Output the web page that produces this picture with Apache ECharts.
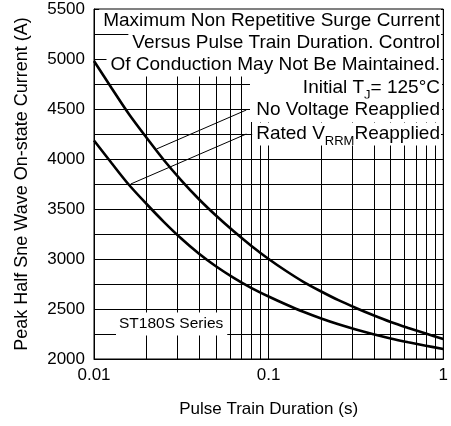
<!DOCTYPE html>
<html><head><meta charset="utf-8">
<script src="https://cdn.jsdelivr.net/npm/echarts@6/dist/echarts.min.js"></script>
<style>html,body{margin:0;padding:0;background:#fff}#c{width:451px;height:426px}</style>
</head><body><div id="c"></div>
<script>
// Data (points along each curve)
const durationX = [0.01, 0.0126, 0.0158, 0.02, 0.0251, 0.0316, 0.0398, 0.0501, 0.0631, 0.0794, 0.1,
                   0.126, 0.158, 0.2, 0.251, 0.316, 0.398, 0.5, 0.631, 0.794, 1];
const noVoltageY = [4980, 4710, 4452, 4212, 3990, 3787, 3600, 3432, 3277, 3133, 3000,
                    2880, 2772, 2675, 2588, 2510, 2437, 2370, 2310, 2254, 2200];
const ratedVrrmY = [4185, 3960, 3745, 3550, 3372, 3205, 3055, 2925, 2812, 2712, 2625,
                    2545, 2472, 2405, 2347, 2295, 2248, 2206, 2168, 2133, 2100];
const minorGridX = [0.02, 0.03, 0.04, 0.05, 0.06, 0.07, 0.08, 0.09, 0.2, 0.3, 0.4, 0.5, 0.6, 0.7, 0.8, 0.9];
const xTickLabels = {'0.01': '0.01', '0.1': '0.1', '1': '1'};
const yLabelStep = 500;
const leaderLines = [
  [[0.0228, 4100], [0.0745, 4490]],
  [[0.01623, 3750], [0.0745, 4250]]
];

const FONT = "'Liberation Sans', Arial, sans-serif";
const zip = (xs, ys) => xs.map((x, i) => [x, ys[i]]);

const chart = echarts.init(document.getElementById('c'), null, {renderer: 'canvas'});
const rowFont = '19px ' + FONT;
const rich = {
  n: {fontSize: 19, fontFamily: FONT, color: '#000', lineHeight: 19, verticalAlign: 'top'},
  s: {fontSize: 13, fontFamily: FONT, color: '#000', lineHeight: 13, padding: [10, 0, 0, 0], verticalAlign: 'top'}
};
const textEl = (text, x, y, extra) => ({
  type: 'text', z: 100, silent: true,
  style: Object.assign({text: text, x: x, y: y, align: 'right', verticalAlign: 'middle',
    font: rowFont, fill: '#000', backgroundColor: '#fff', padding: [2, 1, 2, 4]}, extra || {})
});

chart.setOption({
  animation: false,
  grid: {left: 94, top: 9, right: 5, bottom: 67, show: true, borderColor: '#000', borderWidth: 1},
  xAxis: {
    type: 'log', logBase: 10, min: 0.01, max: 1,
    axisLine: {show: true, lineStyle: {color: '#000', width: 1}},
    axisTick: {show: false},
    splitLine: {show: true, lineStyle: {color: '#000', width: 1}},
    axisLabel: {color: '#000', fontFamily: FONT, fontSize: 17, margin: 8,
      formatter: v => { const k = String(+v.toPrecision(3)); return xTickLabels[k] || ''; }},
    name: 'Pulse Train Duration (s)', nameLocation: 'middle', nameGap: 42,
    nameTextStyle: {color: '#000', fontFamily: FONT, fontSize: 17}
  },
  yAxis: {
    type: 'value', min: 2000, max: 5500, interval: 250,
    axisLine: {show: true, lineStyle: {color: '#000', width: 1}},
    axisTick: {show: false},
    splitLine: {show: true, lineStyle: {color: '#000', width: 1}},
    axisLabel: {color: '#000', fontFamily: FONT, fontSize: 17, margin: 9,
      formatter: v => (v % yLabelStep === 0 ? String(v) : '')},
    name: 'Peak Half Sne Wave On-state Current (A)', nameLocation: 'middle', nameGap: 63,
    nameTextStyle: {color: '#000', fontFamily: FONT, fontSize: 18}
  },
  series: [
    {
      type: 'line', data: zip(durationX, noVoltageY), smooth: 0.3, symbol: 'none',
      lineStyle: {color: '#000', width: 2.6}, z: 5,
      markLine: {
        silent: true, symbol: 'none', label: {show: false}, animation: false,
        lineStyle: {color: '#000', width: 1, type: 'solid'},
        data: minorGridX.map(v => ({xAxis: v}))
      }
    },
    {
      type: 'line', data: zip(durationX, ratedVrrmY), smooth: 0.3, symbol: 'none',
      lineStyle: {color: '#000', width: 2.6}, z: 5,
      markLine: {
        silent: true, symbol: 'none', label: {show: false}, animation: false,
        lineStyle: {color: '#000', width: 1, type: 'solid'},
        data: leaderLines.map(l => [{coord: l[0]}, {coord: l[1]}])
      }
    }
  ],
  graphic: [
    {type: 'rect', z: 99, silent: true, shape: {x: 250, y: 76, width: 192, height: 46}, style: {fill: '#fff'}},
    textEl('Maximum Non Repetitive Surge Current', 441, 21),
    textEl('Versus Pulse Train Duration. Control', 441, 43),
    textEl('Of Conduction May Not Be Maintained.', 441, 65),
    textEl('{n|Initial T}{s|J}{n|= 125°C}', 441, 88, {rich: rich, font: null}),
    textEl('No Voltage Reapplied', 441, 110),
    textEl('{n|Rated V}{s|RRM}{n|Reapplied}', 441, 134, {rich: rich, font: null}),
    {type: 'text', z: 100, silent: true,
      style: {text: 'ST180S Series', x: 116, y: 324, align: 'left', verticalAlign: 'middle',
        font: '15.5px ' + FONT, fill: '#000', backgroundColor: '#fff', padding: [4, 4, 3, 3]}}
  ]
});
</script></body></html>
